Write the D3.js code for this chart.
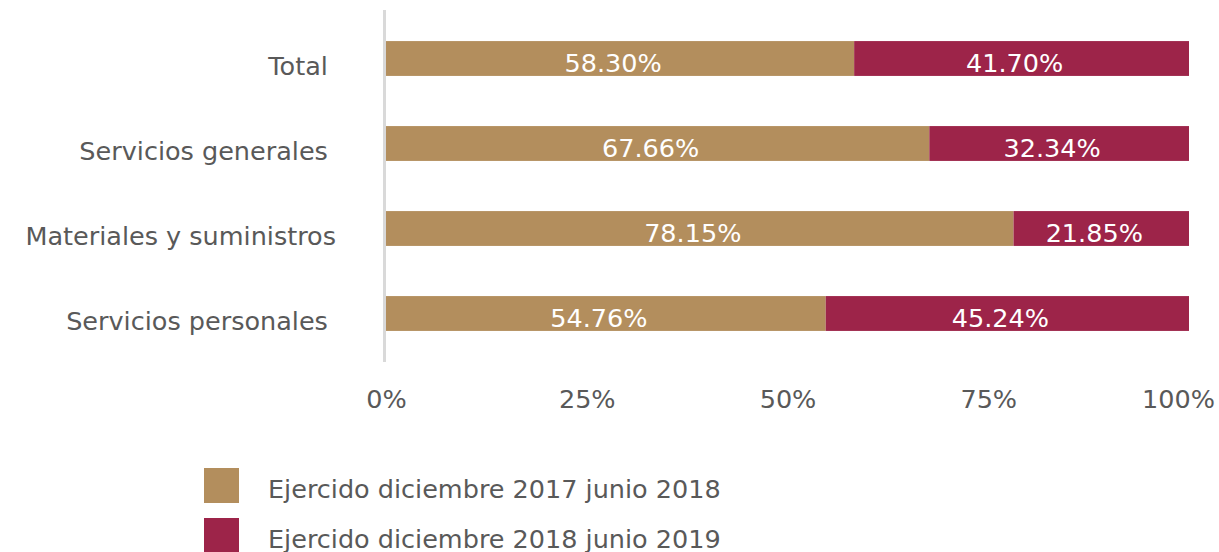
<!DOCTYPE html>
<html><head><meta charset="utf-8">
<script src="https://cdn.jsdelivr.net/npm/d3@7"></script>
<style>
html,body{margin:0;padding:0;background:#fff;}
svg{display:block;font-family:"DejaVu Sans",sans-serif;}
svg text{white-space:pre;}
</style></head>
<body>
<svg id="chart" width="1219" height="552"></svg>
<script>
const categories = ["Total ", "Servicios generales ", "Materiales y suministros", "Servicios personales "];
const serie2018 = [58.30, 67.66, 78.15, 54.76];
const serie2019 = [41.70, 32.34, 21.85, 45.24];
const seriesNames = ["Ejercido diciembre 2017 junio 2018", "Ejercido diciembre 2018 junio 2019"];
const tickValues = [0, 25, 50, 75, 100];
const tickLabels = ["0%", "25%", "50%", "75%", "100%"];
const colors = ["#B38E5D", "#9D2449"];

const svg = d3.select("#chart");
const fontSize = 25.5;
const textColor = "#595959";

const x = d3.scaleLinear().domain([0, 100]).range([386, 1189]);
const y = d3.scaleBand().domain(categories).range([16, 356]).paddingInner(0.59).paddingOuter(0.295);

const rows = categories.map((c, i) => ({cat: c, vals: [serie2018[i], serie2019[i]]}));
const stack = d3.stack().keys([0, 1]).value((d, k) => d.vals[k]);
const stacked = stack(rows);

// axis line
svg.append("line").attr("x1", 384.5).attr("x2", 384.5).attr("y1", 10).attr("y2", 362)
  .attr("stroke", "#D9D9D9").attr("stroke-width", 3);

// bars
const g = svg.append("g");
stacked.forEach((layer, k) => {
  g.selectAll(null).data(layer).enter().append("rect")
    .attr("x", d => x(d[0]))
    .attr("width", d => x(d[1]) - x(d[0]))
    .attr("y", d => y(d.data.cat))
    .attr("height", y.bandwidth())
    .attr("fill", colors[k]);
  g.selectAll(null).data(layer).enter().append("text")
    .attr("x", d => (x(d[0]) + x(d[1])) / 2 - 7)
    .attr("y", d => y(d.data.cat) + y.bandwidth() / 2 + 13.5)
    .attr("text-anchor", "middle")
    .attr("fill", "#fff")
    .attr("font-size", fontSize)
    .text(d => (d[1] - d[0]).toFixed(2) + "%");
});

// category labels
const yAxis = d3.axisLeft(y).tickSize(0).tickPadding(0);
const ya = svg.append("g").attr("transform", "translate(336,0)").call(yAxis)
  .attr("font-family", null).attr("font-size", null);
ya.select(".domain").remove();
ya.selectAll("text").attr("font-size", fontSize).attr("fill", textColor)
  .attr("dy", 0).attr("y", 16);

// x axis
const xAxis = d3.axisBottom(x).tickValues(tickValues).tickFormat((d, i) => tickLabels[i]).tickSize(0).tickPadding(0);
const xa = svg.append("g").attr("transform", "translate(0,408)").call(xAxis)
  .attr("font-family", null).attr("font-size", null);
xa.select(".domain").remove();
xa.selectAll("text").attr("font-size", fontSize).attr("fill", textColor).attr("dy", 0).attr("y", 0);
xa.selectAll(".tick").filter(d => d === 100).select("text").attr("dx", -11);

// legend
const leg = svg.append("g");
seriesNames.forEach((n, i) => {
  const yy = 468 + i * 50;
  leg.append("rect").attr("x", 204).attr("y", yy).attr("width", 35).attr("height", 35).attr("fill", colors[i]);
  leg.append("text").attr("x", 268).attr("y", yy + 30).attr("font-size", fontSize).attr("fill", textColor).text(n);
});
</script>
</body></html>
